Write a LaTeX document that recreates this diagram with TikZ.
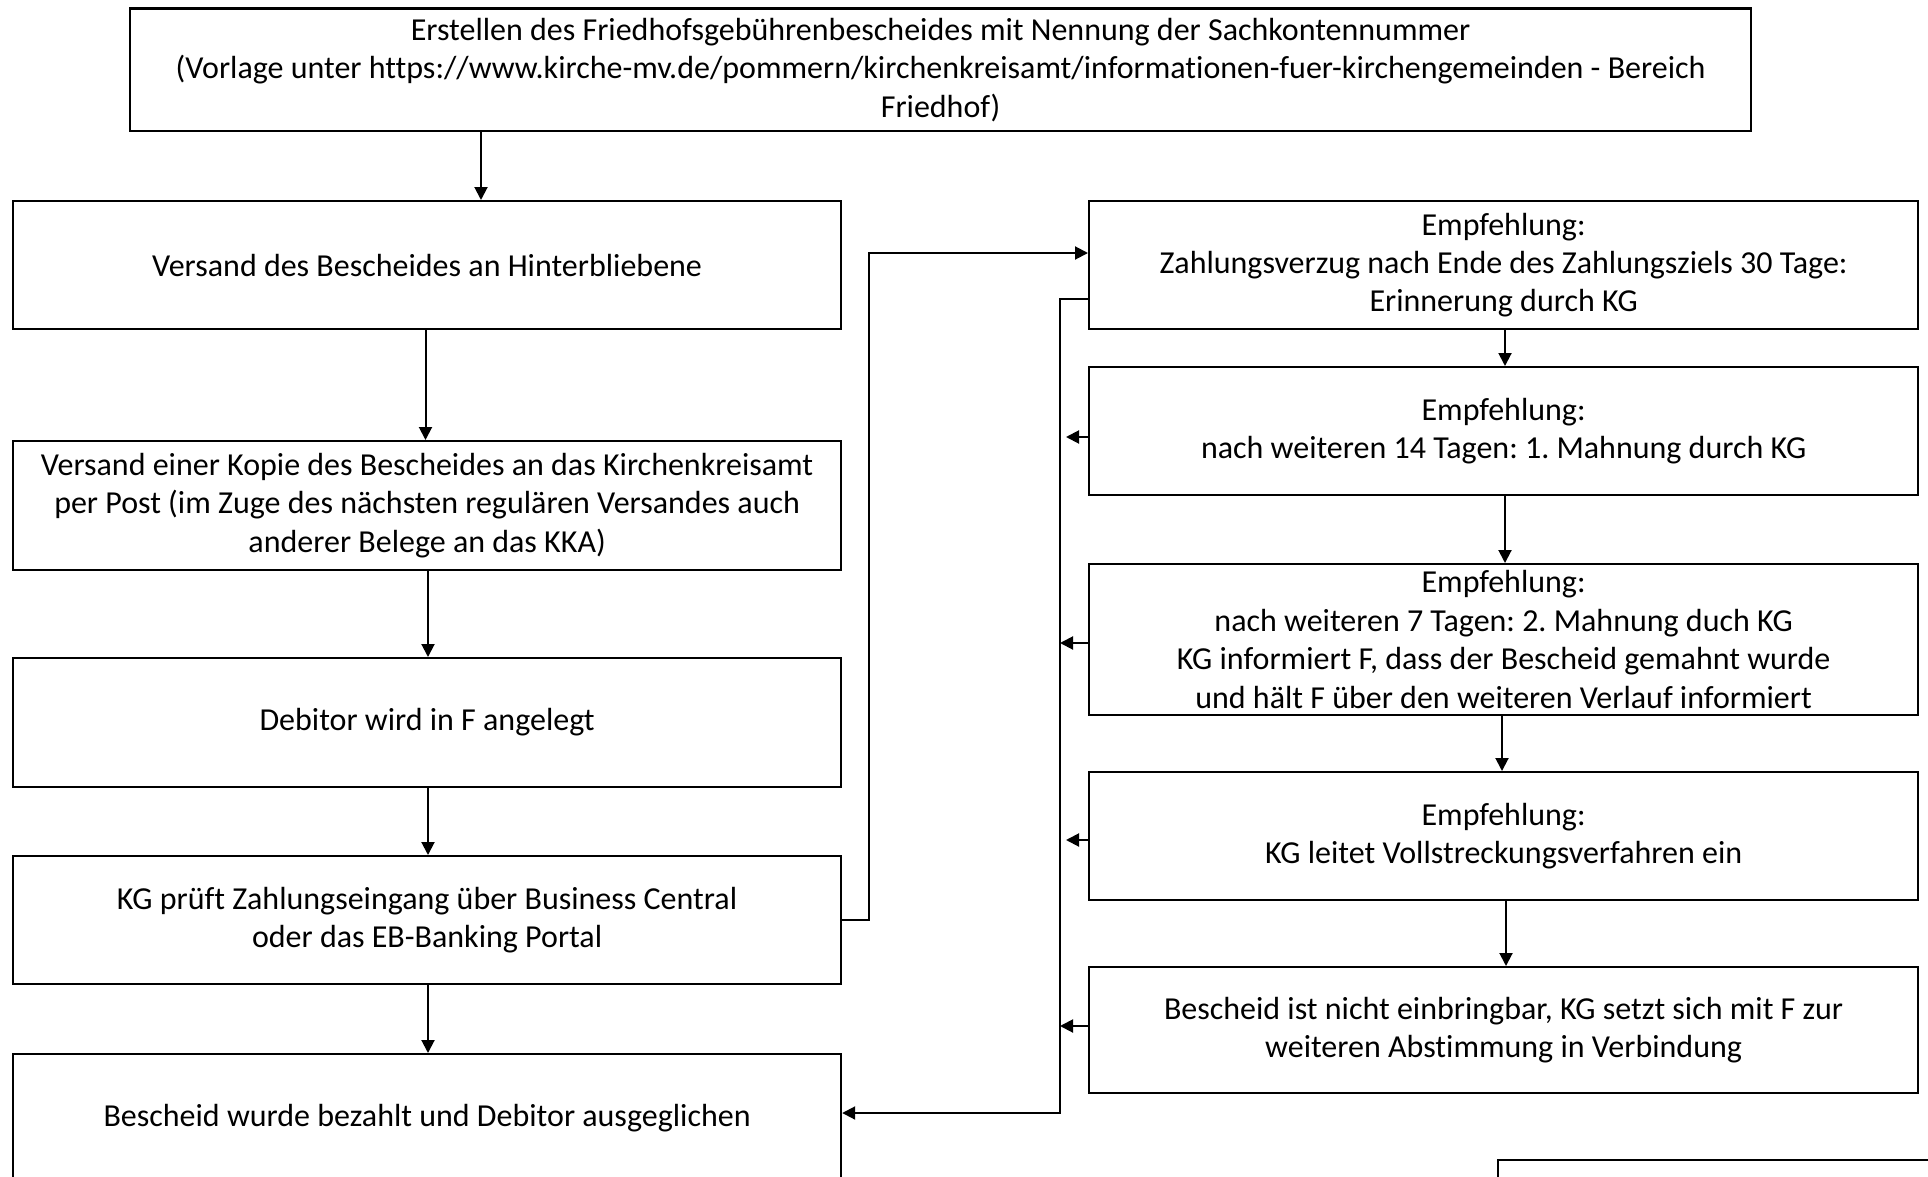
\documentclass[tikz,border=0pt]{standalone}
\usepackage{fontspec}
\setmainfont{Carlito}[Ligatures={NoCommon,NoContextual}]
\usetikzlibrary{arrows.meta}
\frenchspacing
\begin{document}
\begin{tikzpicture}[x=0.5pt,y=-0.5pt,
  box/.style={draw, line width=1.1pt, inner sep=0pt, align=center, anchor=north west,
    font=\fontsize{16}{19.2}\selectfont},
  arr/.style={line width=1pt, -{Triangle[length=6.5pt,width=6.5pt]}},
  ln/.style={line width=1pt}]
\useasboundingbox (0,0) rectangle (1928,1177);
\node[box, minimum width=810.5pt, minimum height=61.25pt] (top) at (129,7.5)
 {Erstellen des Friedhofsgebührenbescheides mit Nennung der Sachkontennummer\\(Vorlage unter https://www.kirche-mv.de/pommern/kirchenkreisamt/informationen-fuer-kirchengemeinden - Bereich\\Friedhof)};
\node[box, minimum width=414pt, minimum height=64pt] (L1) at (12,200)
 {Versand des Bescheides an Hinterbliebene};
\node[box, minimum width=414pt, minimum height=64.5pt] (L2) at (12,440)
 {Versand einer Kopie des Bescheides an das Kirchenkreisamt\\per Post (im Zuge des nächsten regulären Versandes auch\\anderer Belege an das KKA)};
\node[box, minimum width=414pt, minimum height=64.5pt] (L3) at (12,657)
 {Debitor wird in F angelegt};
\node[box, minimum width=414pt, minimum height=64pt] (L4) at (12,855)
 {KG prüft Zahlungseingang über Business Central\\oder das EB-Banking Portal};
\node[box, minimum width=414pt, minimum height=64pt] (L5) at (12,1053)
 {Bescheid wurde bezahlt und Debitor ausgeglichen};
\node[box, minimum width=414.5pt, minimum height=64pt] (R1) at (1088,200)
 {Empfehlung:\\Zahlungsverzug nach Ende des Zahlungsziels 30 Tage:\\Erinnerung durch KG};
\node[box, minimum width=414.5pt, minimum height=64pt] (R2) at (1088,366)
 {Empfehlung:\\nach weiteren 14 Tagen: 1. Mahnung durch KG};
\node[box, minimum width=414.5pt, minimum height=75.5pt] (R3) at (1088,563)
 {Empfehlung:\\nach weiteren 7 Tagen: 2. Mahnung duch KG\\KG informiert F, dass der Bescheid gemahnt wurde\\und hält F über den weiteren Verlauf informiert};
\node[box, minimum width=414.5pt, minimum height=64pt] (R4) at (1088,771)
 {Empfehlung:\\KG leitet Vollstreckungsverfahren ein};
\node[box, minimum width=414.5pt, minimum height=63pt] (R5) at (1088,966)
 {Bescheid ist nicht einbringbar, KG setzt sich mit F zur\\weiteren Abstimmung in Verbindung};
\node[box, minimum width=225pt, minimum height=30pt] (BR) at (1497,1159) {};
% vertical flow arrows
\draw[arr] (481,0 |- top.south) -- (481,0 |- L1.north);
\draw[arr] (425.5,0 |- L1.south) -- (425.5,0 |- L2.north);
\draw[arr] (428,0 |- L2.south) -- (428,0 |- L3.north);
\draw[arr] (428,0 |- L3.south) -- (428,0 |- L4.north);
\draw[arr] (428,0 |- L4.south) -- (428,0 |- L5.north);
\draw[arr] (1505,0 |- R1.south) -- (1505,0 |- R2.north);
\draw[arr] (1505,0 |- R2.south) -- (1505,0 |- R3.north);
\draw[arr] (1502,0 |- R3.south) -- (1502,0 |- R4.north);
\draw[arr] (1506,0 |- R4.south) -- (1506,0 |- R5.north);
% L4 to R1
\draw[arr] (L4.east) -- (869,0 |- L4.east) -- (869,253) -- (R1.west |- 0,253);
% R1 back to L5
\draw[arr] (R1.west |- 0,299) -- (1060,299) -- (1060,1113) -- (L5.east |- 0,1113);
\coordinate (v2) at (1066,437);
\coordinate (v3) at (1060,643);
\coordinate (v4) at (1066,840);
\coordinate (v5) at (1060,1026);
\draw[arr] (R2.west |- v2) -- (v2);
\draw[arr] (R3.west |- v3) -- (v3);
\draw[arr] (R4.west |- v4) -- (v4);
\draw[arr] (R5.west |- v5) -- (v5);
\end{tikzpicture}
\end{document}
